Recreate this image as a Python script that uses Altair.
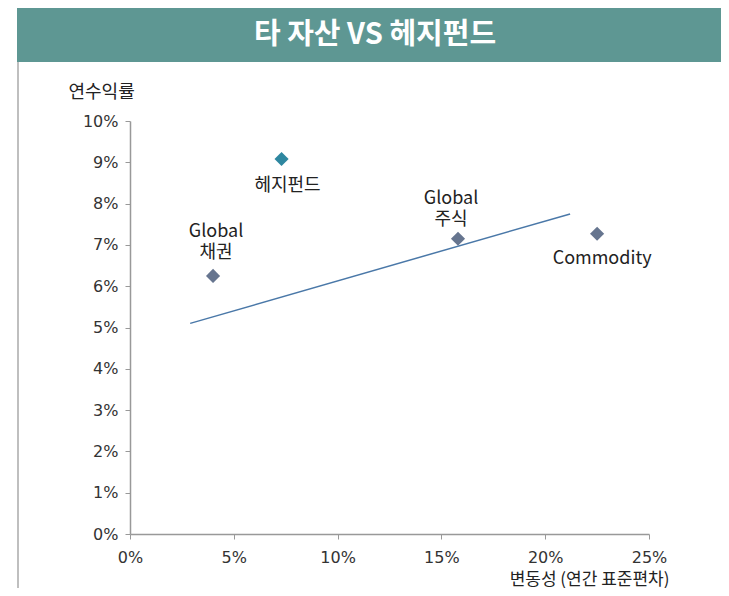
import altair as alt
import pandas as pd

# ---- data ----
names = ["Global\n채권", "헤지펀드", "Global\n주식", "Commodity"]
volatility = [0.040, 0.073, 0.158, 0.225]
annual_return = [0.0625, 0.0908, 0.0715, 0.0727]
groups = ["asset", "hedge", "asset", "asset"]

trend_x = [0.029, 0.212]
trend_y = [0.051, 0.0775]

x_ticks = [0.0, 0.05, 0.10, 0.15, 0.20, 0.25]
y_ticks = [0.0, 0.01, 0.02, 0.03, 0.04, 0.05, 0.06, 0.07, 0.08, 0.09, 0.10]

title_text = "타 자산 VS 헤지펀드"
x_title = "변동성 (연간 표준편차)"
y_title = "연수익률"

# ---- styles ----
W, H = 519, 413
FONT = "Noto Sans CJK KR"
TICKFONT = "DejaVu Sans"
label_style = {
    "Global\n채권": dict(dx=3, dy=-44, baseline="middle"),
    "헤지펀드": dict(dx=6, dy=27, baseline="middle"),
    "Global\n주식": dict(dx=-7, dy=-40, baseline="middle"),
    "Commodity": dict(dx=5, dy=25, baseline="middle"),
}

df = pd.DataFrame({"name": names, "vol": volatility, "ret": annual_return, "grp": groups})
trend = pd.DataFrame({"vol": trend_x, "ret": trend_y})

xscale = alt.Scale(domain=[0, 0.25], nice=False)
yscale = alt.Scale(domain=[0, 0.10], nice=False)

xenc = alt.X("vol:Q", scale=xscale, axis=alt.Axis(
    values=x_ticks, format=".0%", title=x_title, grid=False, labelFlush=False,
    titleX=W + 20, titleY=45, titleAlign="right", titleBaseline="middle",
    titleFontSize=17, titleFontWeight="normal", titleColor="#222", titleFont=FONT,
    labelPadding=10, tickSize=5))
yenc = alt.Y("ret:Q", scale=yscale, axis=alt.Axis(
    values=y_ticks, format=".0%", title=y_title, grid=False, labelFlush=False,
    titleAngle=0, titleX=-62, titleY=-29, titleAlign="left", titleBaseline="middle",
    titleFontSize=18, titleFontWeight="normal", titleColor="#222", titleFont=FONT,
    labelPadding=7, tickSize=5))

line = alt.Chart(trend).mark_line(color="#4a78a8", strokeWidth=1.5).encode(x=xenc, y=yenc)

points = alt.Chart(df).mark_point(shape="diamond", filled=True, size=200, opacity=1).encode(
    x=alt.X("vol:Q", scale=xscale),
    y=alt.Y("ret:Q", scale=yscale),
    color=alt.Color("grp:N", scale=alt.Scale(domain=["asset", "hedge"], range=["#66758f", "#2e87a0"]), legend=None),
)

labels = []
for nm in names:
    st = label_style[nm]
    labels.append(
        alt.Chart(df).transform_filter(alt.datum.name == nm).mark_text(
            font=FONT, fontSize=18, color="#222", lineBreak="\n", lineHeight=21,
            align="center", baseline=st["baseline"], dx=st["dx"], dy=st["dy"],
        ).encode(x=alt.X("vol:Q", scale=xscale), y=alt.Y("ret:Q", scale=yscale), text="name:N")
    )

# decorative banner and frame line (page coords relative to plot origin at 130,121)
banner = alt.Chart(pd.DataFrame({"a": [0]})).mark_rect(color="#5e9793").encode(
    x=alt.value(-113), x2=alt.value(600), y=alt.value(-114), y2=alt.value(-59))
banner_text = alt.Chart(pd.DataFrame({"t": [title_text]})).mark_text(
    font=FONT, fontSize=29, fontWeight="bold", color="white", align="center", baseline="middle"
).encode(x=alt.value(245), y=alt.value(-86), text="t:N")
frame = alt.Chart(pd.DataFrame({"a": [0]})).mark_rule(color="#aaaaaa", strokeWidth=1.5).encode(
    x=alt.value(-112), y=alt.value(-59), y2=alt.value(467))

chart = alt.layer(banner, banner_text, frame, line, points, *labels).properties(
    width=W, height=H,
    autosize=alt.AutoSizeParams(type="none"),
    padding={"left": 122, "top": 113, "right": 72, "bottom": 54},
).configure_view(stroke=None).configure_axis(
    domainColor="#999999", tickColor="#999999", labelColor="#333333",
    labelFont=TICKFONT, labelFontSize=16, domainWidth=1.5,
)

chart.save("out.html", embed_options={"renderer": "svg", "actions": False})
